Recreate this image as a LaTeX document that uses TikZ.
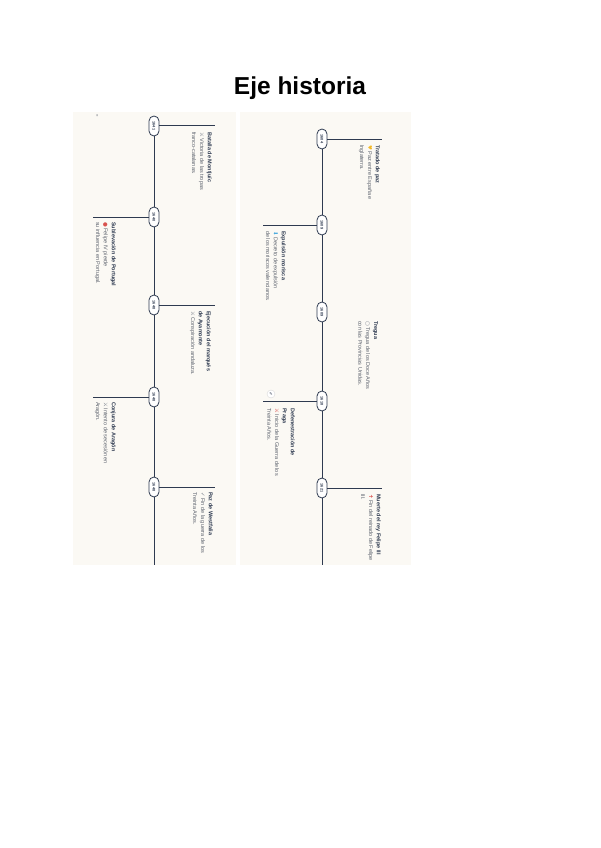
\documentclass[tikz,border=0pt]{standalone}
\usepackage{fontspec}
\setmainfont{Liberation Sans}
\newfontfamily\symf{DejaVu Sans}
\definecolor{navy}{HTML}{2E3A50}
\definecolor{greytxt}{HTML}{5C626D}
\definecolor{panel}{HTML}{FBF9F4}
\definecolor{icyel}{HTML}{F2B92A}
\definecolor{icblue}{HTML}{45A8DD}
\definecolor{icred}{HTML}{D9534F}
\definecolor{icgrey}{HTML}{7E848E}
\begin{document}
\begin{tikzpicture}[x=1pt,y=-1pt,
  yearbox/.style={draw=navy, fill=white, rounded corners=5pt, minimum width=20pt, minimum height=10pt,
    inner sep=0pt, line width=0.8pt, rotate=-90, font=\bfseries\fontsize{3.8}{4}\selectfont, text=navy},
  tl/.style={draw=navy, line width=1pt},
  evtext/.style={rotate=-90, anchor=north west, inner sep=0pt, align=left,
    font=\fontsize{5.5}{7.8}\selectfont, text=greytxt},
  paneltone/.style={fill=panel, draw=none}]
\useasboundingbox (0,0) rectangle (600,848);
\fill[white] (0,0) rectangle (600,848);
\node[font=\bfseries\fontsize{24.5}{28}\selectfont] (title) at (300,88) {Eje historia};
\fill[paneltone] (73,112) rectangle (236,565);
\fill[paneltone] (240,112) rectangle (411,565);
\node[text=icgrey, font=\fontsize{4}{4}\selectfont, rotate=-90] (mark) at (97,116) {≡};
% ---------- left panel ----------
\node[yearbox] (l1) at (154,126) {1641};
\node[yearbox] (l2) at (154,217) {1640};
\node[yearbox] (l3) at (154,305) {1648};
\node[yearbox] (l4) at (154,397) {1648};
\node[yearbox] (l5) at (154,487) {1648};
\coordinate (lend) at (154,565);
\coordinate (l1e) at (215,126);
\coordinate (l2e) at (93,217);
\coordinate (l3e) at (215,305);
\coordinate (l4e) at (93,397);
\coordinate (l5e) at (215,487);
\draw[tl] (l1) -- (l2); \draw[tl] (l2) -- (l3); \draw[tl] (l3) -- (l4);
\draw[tl] (l4) -- (l5); \draw[tl] (l5) -- (lend);
\draw[tl] (l1) -- (l1e); \draw[tl] (l2) -- (l2e); \draw[tl] (l3) -- (l3e);
\draw[tl] (l4) -- (l4e); \draw[tl] (l5) -- (l5e);
\node[evtext] (t1) at (212,132) {{\color{navy}\bfseries Batalla de Montjuïc}\\{\symf\color{icgrey}⚔} Victoria de las tropas\\franco-catalanas.};
\node[evtext] (t2) at (116,222) {{\color{navy}\bfseries Sublevación de Portugal}\\{\symf\color{icred}●} Felipe IV pierde\\su influencia en Portugal.};
\node[evtext] (t3) at (211,311) {{\color{navy}\bfseries Ejecución del marqués}\\{\color{navy}\bfseries de Ayamonte}\\{\symf\color{icgrey}⚔} Conspiración andaluza.};
\node[evtext] (t4) at (116,402) {{\color{navy}\bfseries Conjura de Aragón}\\{\symf\color{icgrey}⚔} Intento de secesión en\\Aragón.};
\node[evtext] (t5) at (213,492) {{\color{navy}\bfseries Paz de Westfalia}\\{\symf\color{icgrey}✓} Fin de la guerra de los\\Treinta Años.};
% ---------- right panel ----------
\node[yearbox] (r1) at (322,139) {1604};
\node[yearbox] (r2) at (322,225) {1609};
\node[yearbox] (r3) at (322,312) {1609};
\node[yearbox] (r4) at (322,401) {1618};
\node[yearbox] (r5) at (322,488) {1621};
\coordinate (rend) at (322,565);
\coordinate (r1e) at (382,139);
\coordinate (r2e) at (263,225);
\coordinate (r4e) at (263,401);
\coordinate (r5e) at (382,488);
\draw[tl] (r1) -- (r2); \draw[tl] (r2) -- (r3); \draw[tl] (r3) -- (r4);
\draw[tl] (r4) -- (r5); \draw[tl] (r5) -- (rend);
\draw[tl] (r1) -- (r1e); \draw[tl] (r2) -- (r2e);
\draw[tl] (r4) -- (r4e); \draw[tl] (r5) -- (r5e);
\node[evtext] (s1) at (380,145) {{\color{navy}\bfseries Tratado de paz}\\{\symf\color{icyel}♥} Paz entre España e\\Inglaterra.};
\node[evtext] (s2) at (286,231) {{\color{navy}\bfseries Expulsión morisca}\\{\symf\color{icblue}⬇} Decreto de expulsión\\de los moriscos valencianos.};
\node[evtext] (s3) at (378,321) {{\color{navy}\bfseries Tregua}\\{\symf\color{icgrey}○} Tregua de los Doce Años\\con las Provincias Unidas.};
\node[evtext] (s4) at (295,408) {{\color{navy}\bfseries Defenestración de}\\{\color{navy}\bfseries Praga}\\{\symf\color{icred}⚔} Inicio de la Guerra de los\\Treinta Años.};
\node[evtext] (s5) at (381,494) {{\color{navy}\bfseries Muerte del rey Felipe III}\\{\symf\color{icred}✝} Fin del reinado de Felipe\\III.};
\node[circle, draw=black!15, fill=white, minimum size=8pt, inner sep=0pt,
  font=\symf\fontsize{4}{4}\selectfont, text=navy] (ic) at (271,394) {✎};
\end{tikzpicture}
\end{document}
